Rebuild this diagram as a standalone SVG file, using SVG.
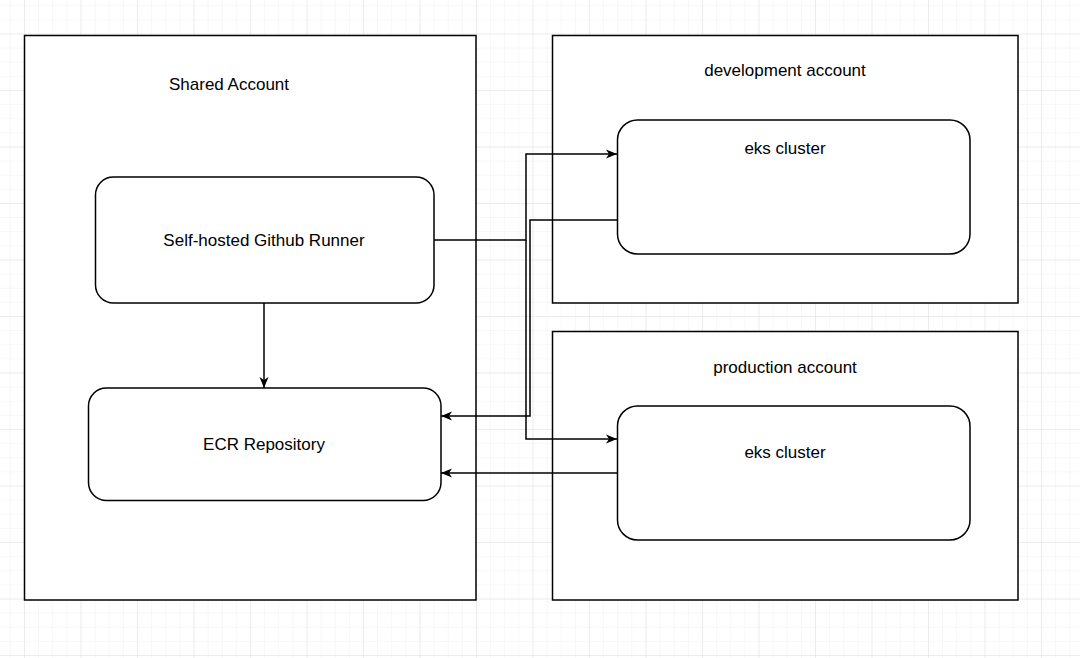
<svg xmlns="http://www.w3.org/2000/svg" width="1080" height="658" viewBox="0 0 1080 658">
<defs>
<pattern id="minor" patternUnits="userSpaceOnUse" x="9.875" y="5.25" width="14.125" height="14.125">
<path d="M0,0 V14.125 M0,0 H14.125" fill="none" stroke="#f0f0f0" stroke-width="1"/>
</pattern>
<pattern id="major" patternUnits="userSpaceOnUse" x="24" y="33.5" width="56.5" height="56.5">
<path d="M0,0 V56.5 M0,0 H56.5" fill="none" stroke="#e2e2e2" stroke-width="1"/>
</pattern>
<marker id="arr" markerUnits="userSpaceOnUse" markerWidth="12" markerHeight="10" refX="11" refY="5" orient="auto">
<path d="M0,0.5 L11,5 L0,9.5 L3,5 z" fill="#000"/>
</marker>
</defs>
<style>
.acct{fill:#fff;stroke:#000;stroke-width:1.5}
.node{fill:#fff;stroke:#000;stroke-width:1.5}
.lbl{font-family:"Liberation Sans",Arial,sans-serif;font-size:17px;fill:#000;text-anchor:middle}
.edge{fill:none;stroke:#000;stroke-width:1.5}
</style>
<rect width="1080" height="658" fill="#fff"/>
<rect width="1080" height="658" fill="url(#minor)"/>
<rect width="1080" height="658" fill="url(#major)"/>

<g id="shared-account">
<rect class="acct" x="24.5" y="35.5" width="451.5" height="564.5"/>
<text class="lbl" x="229" y="90">Shared Account</text>
</g>
<g id="development-account">
<rect class="acct" x="552.5" y="35.5" width="465.5" height="267.5"/>
<text class="lbl" x="785" y="76">development account</text>
</g>
<g id="production-account">
<rect class="acct" x="552.5" y="331.5" width="465.5" height="268.5"/>
<text class="lbl" x="785" y="373">production account</text>
</g>
<g id="runner">
<rect class="node" x="95.5" y="177" width="338.5" height="126" rx="18"/>
<text class="lbl" x="264" y="246">Self-hosted Github Runner</text>
</g>
<g id="ecr">
<rect class="node" x="88.5" y="388" width="352.5" height="112.5" rx="18"/>
<text class="lbl" x="264" y="450">ECR Repository</text>
</g>
<g id="eks-dev">
<rect class="node" x="617.5" y="120" width="352.5" height="134" rx="20"/>
<text class="lbl" x="785" y="154">eks cluster</text>
</g>
<g id="eks-prod">
<rect class="node" x="617.5" y="406" width="352.5" height="134" rx="20"/>
<text class="lbl" x="785" y="458">eks cluster</text>
</g>

<g id="connectors">
<path class="edge" d="M434,240 H526 V154 H617" marker-end="url(#arr)"/>
<path class="edge" d="M526,240 V439 H617" marker-end="url(#arr)"/>
<path class="edge" d="M617,220 H530 V416 H441" marker-end="url(#arr)"/>
<path class="edge" d="M617,473 H441" marker-end="url(#arr)"/>
<path class="edge" d="M264,303 V388" marker-end="url(#arr)"/>
</g>
</svg>
